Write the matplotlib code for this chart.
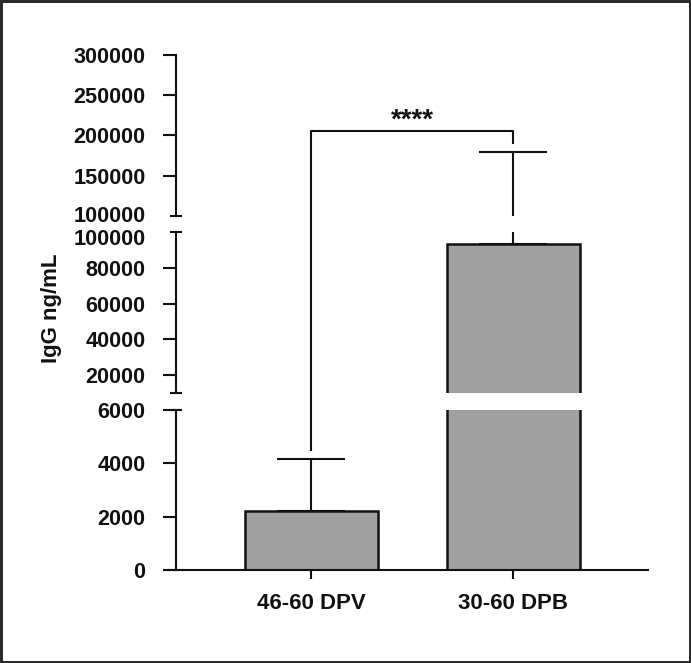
import numpy as np
import matplotlib
matplotlib.use("Agg")
import matplotlib.pyplot as plt
from matplotlib.lines import Line2D
from matplotlib.transforms import offset_copy

plt.rcParams['font.family'] = ['Liberation Sans', 'DejaVu Sans']
plt.rcParams['font.weight'] = 'bold'

# data
groups = ["46-60 DPV", "30-60 DPB"]
igg_mean = [2200, 93300]
igg_err = [1950, 85700]

# broken y axis: (low, high) and ticks of each piece, top to bottom
seg_lims = [(100000, 300000), (10000, 100000), (0, 6000)]
seg_ticks = [[100000, 150000, 200000, 250000, 300000],
             [20000, 40000, 60000, 80000, 100000],
             [0, 2000, 4000, 6000]]

# significance bracket
sig_label = "****"
sig_y = 205000
sig_left_end = 4500
sig_right_end = 191000

ink = '#111111'
W, H = 691, 663
fig = plt.figure(figsize=(W / 100, H / 100), dpi=100)
fig.patch.set_edgecolor('#2a2a2a')
fig.patch.set_linewidth(3.4)


def px_axes(left, top, right, bottom):
    return fig.add_axes([left / W, 1 - bottom / H, (right - left) / W, (bottom - top) / H])


axes = [px_axes(168, 55, 648, 216),
        px_axes(168, 232, 648, 393),
        px_axes(168, 410, 648, 570)]

x = np.arange(len(groups))
spine_x = 8 / 480

for i, ax in enumerate(axes):
    ax.bar(x, igg_mean, width=0.658, color='#a0a0a0', edgecolor=ink, linewidth=1.8, zorder=2)
    ax.errorbar(x, igg_mean, yerr=[[0] * len(x), igg_err], fmt='none', ecolor=ink,
                elinewidth=1.5, capsize=24.5, capthick=1.5, zorder=1)
    ax.set_xlim(-0.71, 1.666)
    ax.set_ylim(seg_lims[i])
    for s in ['top', 'right']:
        ax.spines[s].set_visible(False)
    ax.spines['left'].set_position(('axes', spine_x))
    ax.spines['left'].set_linewidth(1.5)
    ax.spines['left'].set_color(ink)
    ax.set_yticks(seg_ticks[i])
    ax.set_yticklabels([str(t) for t in seg_ticks[i]])
    ax.tick_params(axis='y', length=9.4, width=1.5, pad=12.5, labelsize=15.6, colors=ink)

    # break caps
    if i < 2:
        ax.plot([spine_x], [0], marker='_', ms=8.6, mew=1.5, color=ink,
                transform=ax.transAxes, clip_on=False)
    if i > 0:
        ax.plot([spine_x], [1], marker='_', ms=8.6, mew=1.5, color=ink,
                transform=ax.transAxes, clip_on=False)
    if i < 2:
        ax.spines['bottom'].set_visible(False)
        ax.set_xticks([])
        ax.yaxis.get_major_ticks()[0 if i == 0 else -1].tick1line.set_visible(False)

# nudge the two 100000 labels apart like the original
axes[0].get_yticklabels()[0].set_transform(
    offset_copy(axes[0].get_yticklabels()[0].get_transform(), fig=fig, y=2, units='dots'))
axes[1].get_yticklabels()[-1].set_transform(
    offset_copy(axes[1].get_yticklabels()[-1].get_transform(), fig=fig, y=-5, units='dots'))

ax_bot = axes[2]
ax_bot.spines['bottom'].set_linewidth(1.5)
ax_bot.spines['bottom'].set_color(ink)
ax_bot.set_xticks(x)
ax_bot.set_xticklabels(groups)
ax_bot.tick_params(axis='x', length=6.5, width=1.5, pad=10, labelsize=16, colors=ink)

fig.text(51 / W, 1 - 308 / H, "IgG ng/mL", rotation=90, ha='center', va='center',
         fontsize=16, color=ink)


def to_fig(ax, xv, yv):
    return fig.transFigure.inverted().transform(ax.transData.transform((xv, yv)))


p1 = to_fig(axes[2], x[0], sig_left_end)
p2 = to_fig(axes[0], x[0], sig_y)
p3 = to_fig(axes[0], x[1], sig_y)
p4 = to_fig(axes[0], x[1], sig_right_end)
fig.add_artist(Line2D([p1[0], p2[0], p3[0], p4[0]], [p1[1], p2[1], p3[1], p4[1]],
                      color=ink, lw=1.5))
fig.text((p2[0] + p3[0]) / 2, p2[1] - 2 / H, sig_label, ha='center', va='bottom',
         fontsize=20, color=ink)

fig.savefig("out.png", dpi=100)
